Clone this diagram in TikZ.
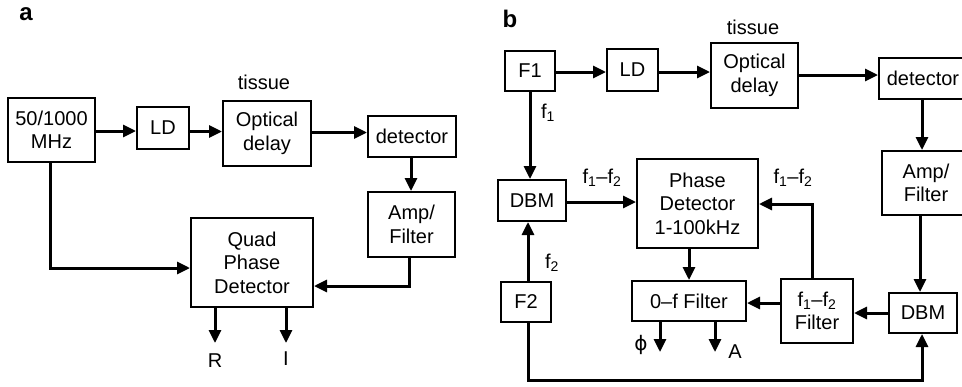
\documentclass[tikz,border=0pt]{standalone}
\usepackage{fontspec}
\setmainfont{Liberation Sans}
\newfontfamily\grkfont{DejaVu Sans}
\usetikzlibrary{arrows.meta}
\begin{document}
\begin{tikzpicture}[x=1pt,y=-1pt,
  blk/.style={draw, line width=2pt, inner sep=0pt, align=center,
    font=\fontsize{20}{23.5}\selectfont},
  arr/.style={line width=3pt, -{Triangle[length=13pt,width=12pt]}},
  lbl/.style={inner sep=0pt, font=\fontsize{20}{23.5}\selectfont},
  panel/.style={inner sep=0pt, font=\fontsize{24}{24}\bfseries\selectfont}]
\path[use as bounding box, clip] (0,0) rectangle (962,386);

% ---------- (a) quadrature phase detection ----------
\node[panel] (pa) at (26,14) {a};
\node[lbl] (tisa) at (264,82) {tissue};
\node[blk, minimum width=87, minimum height=64] (gen) at (51.5,130) {50/1000\\MHz};
\node[blk, minimum width=52, minimum height=42] (lda) at (163,128) {LD};
\node[blk, minimum width=88, minimum height=65] (opta) at (267,133.5) {Optical\\delay};
\node[blk, minimum width=88, minimum height=41] (deta) at (412,136.5) {detector};
\node[blk, minimum width=87, minimum height=65] (ampa) at (411.5,224.5) {Amp/\\Filter};
\node[blk, minimum width=122, minimum height=89] (quad) at (252,262.5) {Quad\\Phase\\Detector};

\draw[arr] (gen.east |- 0,131) -- (lda.west |- 0,131);
\draw[arr] (lda.east |- 0,131.5) -- (opta.west |- 0,131.5);
\draw[arr] (opta.east |- 0,132.5) -- (deta.west |- 0,132.5);
\draw[arr] (deta.south -| 411,0) -- (ampa.north -| 411,0);
\draw[arr] (gen.south -| 50,0) |- (quad.west |- 0,268);
\draw[arr] (ampa.south -| 409,0) |- (quad.east |- 0,286);

\coordinate (ra) at (215,343);
\coordinate (ia) at (286,343);
\draw[arr] (quad.south -| ra) -- (ra);
\draw[arr] (quad.south -| ia) -- (ia);
\node[lbl] (R) at (215,361) {R};
\node[lbl] (I) at (286,359) {I};

% ---------- (b) heterodyne phase detection ----------
\node[panel] (pb) at (510,19) {b};
\node[lbl] (tisb) at (753,27) {tissue};
\node[blk, minimum width=50, minimum height=40] (f1) at (530,71) {F1};
\node[blk, minimum width=51, minimum height=42] (ldb) at (632.5,70) {LD};
\node[blk, minimum width=87, minimum height=65] (optb) at (754.5,75.5) {Optical\\delay};
\node[blk, minimum width=88, minimum height=41] (detb) at (923,78.5) {detector};
\node[blk, minimum width=88, minimum height=64] (ampb) at (926,183) {Amp/\\Filter};
\node[blk, minimum width=68, minimum height=40] (dbmb) at (923,313) {DBM};
\node[blk, minimum width=68, minimum height=41] (dbma) at (532,200.5) {DBM};
\node[blk, minimum width=121, minimum height=89] (phase) at (697.5,203.5) {Phase\\Detector\\1-100kHz};
\node[blk, minimum width=114, minimum height=40] (zf) at (689,301) {0–f Filter};
\node[blk, minimum width=72, minimum height=64] (fff) at (817,311) {f\textsubscript{1}–f\textsubscript{2}\\Filter};
\node[blk, minimum width=50, minimum height=40] (f2) at (526,302) {F2};

\draw[arr] (f1.east |- 0,72) -- (ldb.west |- 0,72);
\draw[arr] (ldb.east |- 0,72) -- (optb.west |- 0,72);
\draw[arr] (optb.east |- 0,75) -- (detb.west |- 0,75);
\draw[arr] (detb.south -| 922,0) -- (ampb.north -| 922,0);
\draw[arr] (ampb.south -| 920,0) -- (dbmb.north -| 920,0);
\draw[arr] (f1.south) -- (dbma.north -| f1.south);
\draw[arr] (dbma.east |- 0,202) -- (phase.west |- 0,202);
\draw[arr] (phase.south -| 689,0) -- (zf.north -| 689,0);
\draw[arr] (fff.west |- 0,303) -- (zf.east |- 0,303);
\draw[arr] (dbmb.west |- 0,313) -- (fff.east |- 0,313);
\draw[arr] (fff.north -| 812,0) |- (phase.east |- 0,204);
\draw[arr] (f2.north -| 528,0) -- (dbma.south -| 528,0);
\coordinate (bot) at (528,380);
\draw[arr] (f2.south -| bot) -- (bot) -| (dbmb.south -| 922,0);

\coordinate (phiend) at (660,352);
\coordinate (aend) at (715,352);
\draw[arr] (zf.south -| phiend) -- (phiend);
\draw[arr] (zf.south -| aend) -- (aend);

\node[lbl] (lf1) at (548,113) {f\textsubscript{1}};
\node[lbl] (lf12a) at (602,178) {f\textsubscript{1}–f\textsubscript{2}};
\node[lbl] (lf12b) at (793,178) {f\textsubscript{1}–f\textsubscript{2}};
\node[lbl] (lf2) at (552,263) {f\textsubscript{2}};
\node[lbl] (phi) at (641,345) {\grkfont ϕ};
\node[lbl] (A) at (735,352) {A};
\end{tikzpicture}
\end{document}
